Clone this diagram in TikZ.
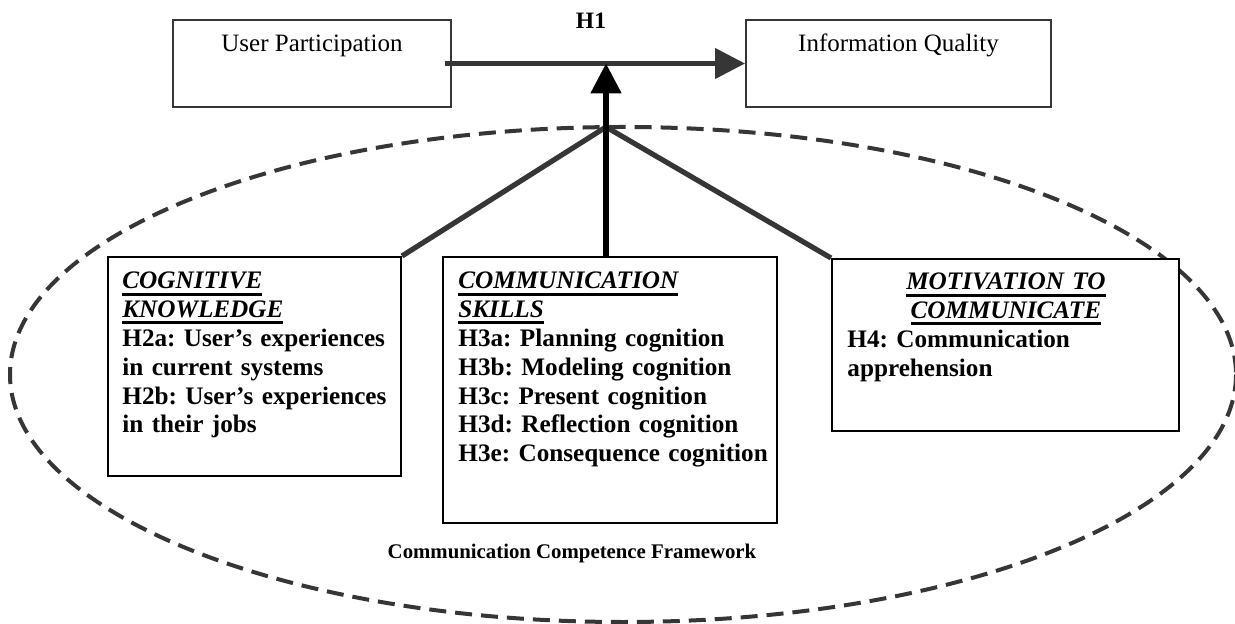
\documentclass[tikz,border=0pt]{standalone}
\usepackage{fontspec}
\setmainfont{Liberation Serif}
\usetikzlibrary{arrows.meta,fit}
\definecolor{dk}{HTML}{363636}
\frenchspacing
\newcommand\boxfont{\fontsize{12.6pt}{14.4pt}\selectfont\bfseries}
\newcommand\titlefont{\fontsize{12.5pt}{14pt}\selectfont}
\newcommand\hfont{\fontsize{11.75pt}{14pt}\selectfont\bfseries}
\newcommand\fwfont{\fontsize{10.4pt}{12pt}\selectfont\bfseries}
\newsavebox\hdrbox
\newcommand\hdr[1]{\sbox\hdrbox{\itshape #1}\leavevmode\rlap{\raisebox{-3.3pt}{\rule{\wd\hdrbox}{1.5pt}}}\usebox\hdrbox}
\begin{document}
\begin{tikzpicture}[x=0.5pt,y=-0.5pt,
  topbox/.style={draw=dk,line width=1pt,inner sep=0pt,fill=white},
  lowbox/.style={draw=black,line width=1pt,inner sep=0pt,fill=white},
  hyparrow/.style={draw=dk,line width=2.2pt,-{Triangle[length=15pt,width=15pt]}},
  modarrow/.style={draw=black,line width=2.6pt,-{Triangle[length=15pt,width=15pt]}},
  diagline/.style={draw=dk,line width=2.6pt},
  frameline/.style={draw=dk,line width=2pt,dash pattern=on 8.5pt off 4.5pt},
  boxtext/.style={anchor=base west,inner sep=0pt,align=left,font=\boxfont},
  titletext/.style={anchor=base,inner sep=0pt,font=\titlefont}
]
\useasboundingbox (0,0) rectangle (1235,624);
\fill[white] (0,0) rectangle (1235,624);
\draw[frameline] (623,374.5) ellipse [x radius=613, y radius=247.5];

\coordinate (j) at (606,127);

\node[topbox,fit={(173,20) (451,107)}] (up) {};
\node[topbox,fit={(746,20) (1051,107)}] (iq) {};
\node[lowbox,fit={(108,257) (401,476)}] (cog) {};
\node[lowbox,fit={(443,257) (777,523)}] (com) {};
\node[lowbox,fit={(832,259) (1179,431)}] (mot) {};

\draw[diagline] (cog.north east) -- (j) -- (mot.north west);
\draw[hyparrow] ([xshift=-3.5pt]up.east) -- (iq.west);
\draw[modarrow] (com.north -| j) -- (j |- up.east);

\node[titletext] (uptxt) at (312,52) {User Participation};
\node[titletext] (iqtxt) at (898.5,52) {Information Quality};
\node[anchor=base,inner sep=0pt,font=\hfont] (h1) at (591,29) {H1};

\node[boxtext,text width=140pt] (cogtxt) at (122,289) {\hdr{COGNITIVE}\\ \hdr{KNOWLEDGE}\\ H2a: User's experiences\\ in current systems\\ H2b: User's experiences\\ in their jobs};
\node[boxtext,text width=160pt] (comtxt) at (458,289) {\hdr{COMMUNICATION}\\ \hdr{SKILLS}\\ H3a: Planning cognition\\ H3b: Modeling cognition\\ H3c: Present cognition\\ H3d: Reflection cognition\\ H3e: Consequence cognition};
\node[boxtext,text width=158.5pt] (mottxt) at (847,290) {\makebox[\linewidth]{\hdr{MOTIVATION TO}}\\ \makebox[\linewidth]{\hdr{COMMUNICATE}}\\ H4: Communication\\ apprehension};

\node[anchor=base,inner sep=0pt,font=\fwfont] (fw) at (572,558) {Communication Competence Framework};
\end{tikzpicture}
\end{document}
